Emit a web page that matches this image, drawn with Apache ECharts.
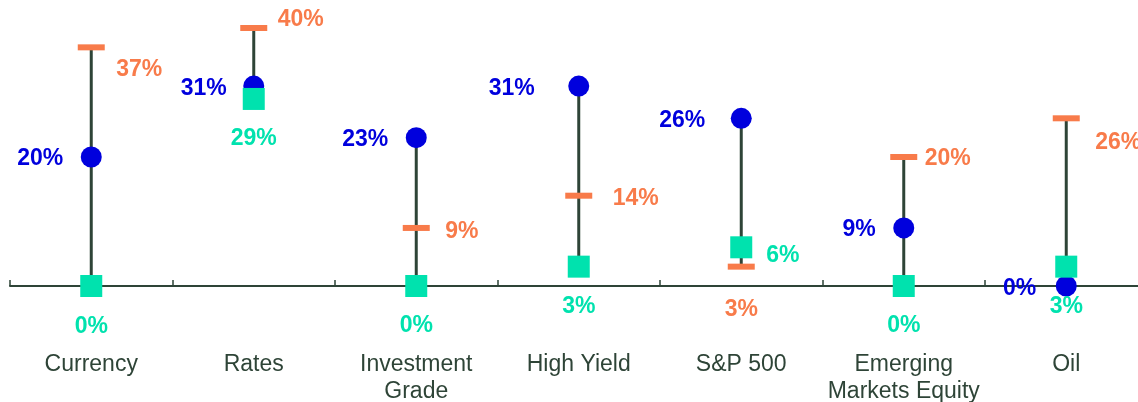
<!DOCTYPE html>
<html>
<head>
<meta charset="utf-8">
<script src="https://cdn.jsdelivr.net/npm/echarts@6/dist/echarts.min.js"></script>
<style>
html,body{margin:0;padding:0;background:#fff;}
#chart{width:1138px;height:402px;}
</style>
</head>
<body>
<div id="chart"></div>
<script>
// ---- data ----
const categories = ['Currency', 'Rates', 'Investment\nGrade', 'High Yield', 'S&P 500', 'Emerging\nMarkets Equity', 'Oil'];
const blueValues = [20, 31, 23, 31, 26, 9, 0];
const greenValues = [0, 29, 0, 3, 6, 0, 3];
const orangeValues = [37, 40, 9, 14, 3, 20, 26];

// ---- label placement (layout only): [dx, dy, align] relative to marker centre ----
const blueLabelPlace = [[-28,2,'right'],[-27,3,'right'],[-28,2,'right'],[-44,3,'right'],[-36,2,'right'],[-28,2,'right'],[-30,3,'right']];
const greenLabelPlace = [[0,41,'center'],[0,40,'center'],[0,40,'center'],[0,40,'center'],[25,8,'left'],[0,40,'center'],[0,40,'center']];
const orangeLabelPlace = [[25,22,'left'],[24,-8,'left'],[29,4,'left'],[34,3,'left'],[0,43,'center'],[21,2,'left'],[29,24,'left']];

const BLUE = '#0000DD', GREEN = '#00E2AE', ORANGE = '#F87B4A', DARK = '#2E4437';
const FONT = '"Liberation Sans", Arial, sans-serif';

function pts(values, place) {
  return values.map((v, i) => ({
    value: [i, v],
    label: {
      offset: [place[i][0], place[i][1]],
      align: place[i][2]
    }
  }));
}
function pctLabel(color) {
  return {
    show: true, position: 'inside', verticalAlign: 'middle',
    color: color, fontFamily: FONT, fontWeight: 'bold', fontSize: 23,
    formatter: p => p.value[1] + '%'
  };
}

const rangeData = categories.map((c, i) => {
  const vals = [blueValues[i], greenValues[i], orangeValues[i]];
  return [i, Math.min(...vals), Math.max(...vals)];
});

const chart = echarts.init(document.getElementById('chart'), null, {renderer: 'canvas'});
chart.setOption({
  animation: false,
  backgroundColor: '#fff',
  grid: {left: 10, right: -9.5, top: 28, bottom: 116, outerBoundsMode: 'none', containLabel: false},
  xAxis: {
    type: 'category', data: categories, boundaryGap: true,
    axisLine: {lineStyle: {color: DARK, width: 2}},
    axisTick: {show: true, inside: true, length: 6, lineStyle: {color: DARK, width: 1.5}},
    axisLabel: {color: DARK, fontFamily: FONT, fontSize: 23, margin: 65, lineHeight: 27, interval: 0}
  },
  yAxis: {type: 'value', min: 0, max: 40, show: false, splitLine: {show: false}},
  series: [
    {
      type: 'custom', data: rangeData, silent: true,
      renderItem: function (params, api) {
        const a = api.coord([api.value(0), api.value(1)]);
        const b = api.coord([api.value(0), api.value(2)]);
        return {type: 'line', shape: {x1: a[0], y1: a[1], x2: b[0], y2: b[1]},
          style: {stroke: DARK, lineWidth: 3}};
      }
    },
    {
      type: 'scatter', name: 'Orange', symbol: 'rect', symbolSize: [27, 6],
      itemStyle: {color: ORANGE, opacity: 1}, label: pctLabel(ORANGE),
      data: pts(orangeValues, orangeLabelPlace)
    },
    {
      type: 'scatter', name: 'Blue', symbol: 'circle', symbolSize: 21,
      itemStyle: {color: BLUE, opacity: 1}, label: pctLabel(BLUE),
      data: pts(blueValues, blueLabelPlace)
    },
    {
      type: 'scatter', name: 'Green', symbol: 'rect', symbolSize: 22,
      itemStyle: {color: GREEN, opacity: 1}, label: pctLabel(GREEN),
      data: pts(greenValues, greenLabelPlace)
    }
  ]
});
</script>
</body>
</html>
